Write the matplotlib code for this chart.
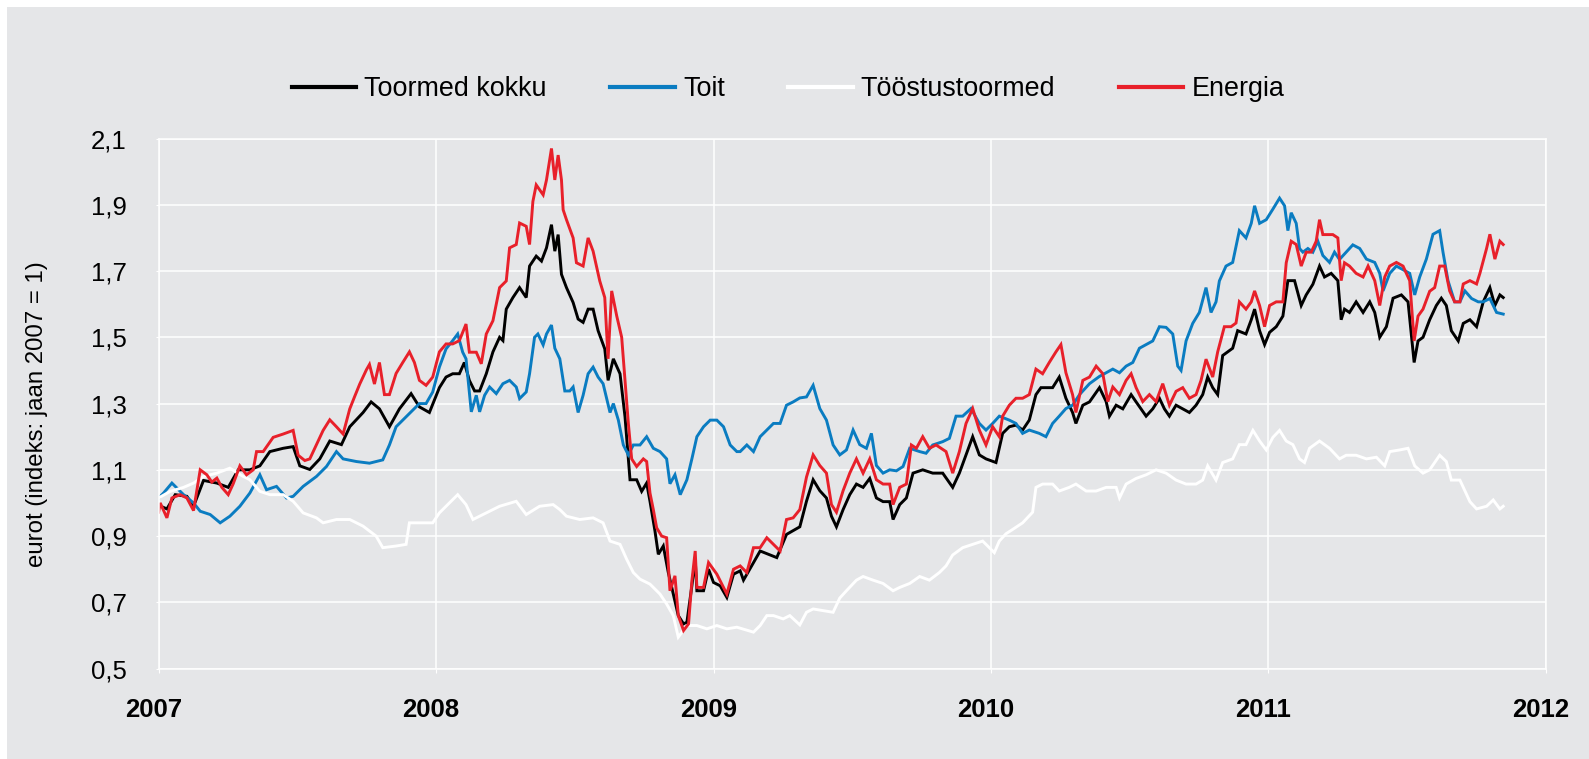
import numpy as np
import matplotlib
matplotlib.use("Agg")
import matplotlib.pyplot as plt
import matplotlib.transforms as mtransforms
from matplotlib.patches import Rectangle

plt.rcParams['font.family'] = ['Liberation Sans', 'DejaVu Sans']

# --- data (decimal year, index: Jan 2007 = 1) ---
t_kokku = [2007.000, 2007.030, 2007.060, 2007.102, 2007.126, 2007.162, 2007.210, 2007.251, 2007.287, 2007.329,
           2007.365, 2007.401, 2007.449, 2007.485, 2007.509, 2007.545, 2007.581, 2007.617, 2007.659, 2007.689,
           2007.737, 2007.766, 2007.796, 2007.832, 2007.868, 2007.910, 2007.940, 2007.976, 2008.012, 2008.036,
           2008.060, 2008.084, 2008.102, 2008.120, 2008.139, 2008.157, 2008.181, 2008.205, 2008.229, 2008.241,
           2008.253, 2008.277, 2008.301, 2008.325, 2008.337, 2008.361, 2008.380, 2008.398, 2008.416, 2008.428,
           2008.440, 2008.452, 2008.470, 2008.494, 2008.512, 2008.530, 2008.548, 2008.566, 2008.584, 2008.608,
           2008.620, 2008.639, 2008.663, 2008.681, 2008.699, 2008.723, 2008.741, 2008.759, 2008.771, 2008.789,
           2008.801, 2008.819, 2008.837, 2008.855, 2008.873, 2008.892, 2008.904, 2008.922, 2008.934, 2008.940,
           2008.964, 2008.982, 2009.000, 2009.024, 2009.048, 2009.072, 2009.096, 2009.108, 2009.168, 2009.228,
           2009.263, 2009.311, 2009.335, 2009.359, 2009.383, 2009.407, 2009.425, 2009.443, 2009.467, 2009.491,
           2009.515, 2009.539, 2009.563, 2009.587, 2009.611, 2009.635, 2009.647, 2009.671, 2009.695, 2009.719,
           2009.754, 2009.790, 2009.826, 2009.862, 2009.886, 2009.910, 2009.934, 2009.958, 2009.982, 2010.018,
           2010.042, 2010.066, 2010.090, 2010.114, 2010.138, 2010.162, 2010.180, 2010.222, 2010.246, 2010.270,
           2010.294, 2010.306, 2010.331, 2010.355, 2010.391, 2010.415, 2010.427, 2010.451, 2010.475, 2010.505,
           2010.523, 2010.559, 2010.583, 2010.607, 2010.625, 2010.643, 2010.667, 2010.691, 2010.715, 2010.739,
           2010.763, 2010.781, 2010.799, 2010.817, 2010.835, 2010.871, 2010.889, 2010.919, 2010.938, 2010.950,
           2010.968, 2010.986, 2011.004, 2011.028, 2011.052, 2011.070, 2011.094, 2011.118, 2011.136, 2011.160,
           2011.184, 2011.202, 2011.226, 2011.250, 2011.262, 2011.274, 2011.292, 2011.316, 2011.341, 2011.365,
           2011.383, 2011.401, 2011.425, 2011.449, 2011.479, 2011.503, 2011.525, 2011.539, 2011.557, 2011.581,
           2011.605, 2011.623, 2011.641, 2011.659, 2011.684, 2011.702, 2011.726, 2011.750, 2011.774, 2011.798,
           2011.816, 2011.834, 2011.846]
v_kokku = [0.993, 0.982, 1.025, 1.020, 0.990, 1.068, 1.060, 1.047, 1.100, 1.100,
           1.112, 1.155, 1.165, 1.170, 1.112, 1.101, 1.133, 1.187, 1.176, 1.230,
           1.273, 1.305, 1.284, 1.230, 1.284, 1.330, 1.290, 1.273, 1.348, 1.380,
           1.390, 1.390, 1.424, 1.370, 1.338, 1.338, 1.390, 1.456, 1.500, 1.490,
           1.585, 1.620, 1.650, 1.620, 1.715, 1.745, 1.730, 1.770, 1.840, 1.760,
           1.810, 1.690, 1.650, 1.605, 1.555, 1.545, 1.585, 1.585, 1.520, 1.465,
           1.370, 1.435, 1.390, 1.260, 1.070, 1.070, 1.035, 1.060, 1.005, 0.915,
           0.845, 0.870, 0.790, 0.725, 0.660, 0.635, 0.640, 0.750, 0.830, 0.735,
           0.735, 0.800, 0.760, 0.750, 0.715, 0.785, 0.795, 0.767, 0.855, 0.835,
           0.905, 0.928, 1.005, 1.070, 1.037, 1.015, 0.960, 0.928, 0.980, 1.025,
           1.057, 1.047, 1.074, 1.015, 1.004, 1.004, 0.950, 0.995, 1.015, 1.090,
           1.100, 1.090, 1.090, 1.047, 1.090, 1.145, 1.200, 1.145, 1.133, 1.122,
           1.210, 1.230, 1.235, 1.220, 1.250, 1.327, 1.348, 1.348, 1.380, 1.316,
           1.273, 1.240, 1.295, 1.305, 1.348, 1.306, 1.262, 1.295, 1.284, 1.327,
           1.305, 1.262, 1.284, 1.316, 1.284, 1.262, 1.295, 1.284, 1.273, 1.295,
           1.327, 1.380, 1.348, 1.327, 1.445, 1.467, 1.520, 1.510, 1.553, 1.585,
           1.520, 1.478, 1.515, 1.532, 1.564, 1.671, 1.671, 1.596, 1.628, 1.660,
           1.715, 1.682, 1.693, 1.671, 1.553, 1.585, 1.575, 1.607, 1.575, 1.607,
           1.575, 1.500, 1.532, 1.618, 1.628, 1.607, 1.424, 1.489, 1.500, 1.553,
           1.596, 1.618, 1.596, 1.520, 1.489, 1.542, 1.553, 1.532, 1.607, 1.650,
           1.596, 1.628, 1.620]

t_toit = [2007.000, 2007.018, 2007.048, 2007.090, 2007.126, 2007.150, 2007.186, 2007.222, 2007.257, 2007.293,
          2007.329, 2007.365, 2007.389, 2007.425, 2007.461, 2007.485, 2007.521, 2007.569, 2007.605, 2007.641,
          2007.665, 2007.713, 2007.760, 2007.808, 2007.832, 2007.856, 2007.904, 2007.940, 2007.964, 2007.988,
          2008.012, 2008.036, 2008.060, 2008.078, 2008.096, 2008.108, 2008.127, 2008.145, 2008.157, 2008.175,
          2008.193, 2008.217, 2008.241, 2008.265, 2008.289, 2008.301, 2008.325, 2008.337, 2008.355, 2008.367,
          2008.386, 2008.398, 2008.416, 2008.428, 2008.446, 2008.464, 2008.482, 2008.494, 2008.512, 2008.530,
          2008.548, 2008.566, 2008.584, 2008.602, 2008.627, 2008.639, 2008.657, 2008.675, 2008.693, 2008.711,
          2008.735, 2008.759, 2008.783, 2008.807, 2008.831, 2008.843, 2008.861, 2008.880, 2008.904, 2008.922,
          2008.940, 2008.964, 2008.988, 2009.012, 2009.036, 2009.060, 2009.084, 2009.096, 2009.120, 2009.144,
          2009.168, 2009.192, 2009.216, 2009.240, 2009.263, 2009.287, 2009.311, 2009.335, 2009.359, 2009.383,
          2009.407, 2009.431, 2009.455, 2009.479, 2009.503, 2009.527, 2009.551, 2009.569, 2009.587, 2009.611,
          2009.635, 2009.659, 2009.683, 2009.707, 2009.743, 2009.766, 2009.790, 2009.826, 2009.850, 2009.874,
          2009.898, 2009.928, 2009.958, 2009.982, 2010.006, 2010.030, 2010.066, 2010.090, 2010.114, 2010.138,
          2010.174, 2010.198, 2010.222, 2010.246, 2010.270, 2010.294, 2010.319, 2010.355, 2010.391, 2010.415,
          2010.439, 2010.463, 2010.487, 2010.511, 2010.535, 2010.559, 2010.583, 2010.607, 2010.631, 2010.655,
          2010.673, 2010.685, 2010.703, 2010.727, 2010.751, 2010.775, 2010.793, 2010.811, 2010.823, 2010.847,
          2010.871, 2010.895, 2010.919, 2010.938, 2010.950, 2010.968, 2010.992, 2011.016, 2011.040, 2011.058,
          2011.070, 2011.082, 2011.100, 2011.112, 2011.124, 2011.142, 2011.160, 2011.178, 2011.196, 2011.220,
          2011.238, 2011.256, 2011.280, 2011.304, 2011.329, 2011.353, 2011.383, 2011.401, 2011.413, 2011.437,
          2011.461, 2011.485, 2011.509, 2011.527, 2011.545, 2011.569, 2011.593, 2011.617, 2011.629, 2011.647,
          2011.671, 2011.690, 2011.708, 2011.732, 2011.756, 2011.774, 2011.798, 2011.822, 2011.846]
v_toit = [1.015, 1.030, 1.060, 1.025, 1.000, 0.975, 0.965, 0.940, 0.960, 0.990,
          1.030, 1.085, 1.040, 1.050, 1.015, 1.020, 1.050, 1.080, 1.110, 1.155,
          1.133, 1.125, 1.120, 1.130, 1.175, 1.230, 1.270, 1.300, 1.300, 1.335,
          1.410, 1.465, 1.490, 1.510, 1.455, 1.435, 1.275, 1.325, 1.275, 1.325,
          1.350, 1.330, 1.360, 1.370, 1.350, 1.315, 1.335, 1.390, 1.500, 1.510,
          1.477, 1.510, 1.537, 1.467, 1.435, 1.338, 1.338, 1.350, 1.273, 1.325,
          1.390, 1.410, 1.380, 1.360, 1.273, 1.300, 1.250, 1.175, 1.145, 1.175,
          1.175, 1.200, 1.165, 1.155, 1.133, 1.058, 1.085, 1.025, 1.070, 1.133,
          1.200, 1.230, 1.250, 1.250, 1.230, 1.175, 1.155, 1.155, 1.175, 1.155,
          1.200, 1.220, 1.240, 1.240, 1.295, 1.305, 1.317, 1.320, 1.355, 1.285,
          1.250, 1.175, 1.145, 1.160, 1.220, 1.176, 1.165, 1.210, 1.113, 1.090,
          1.100, 1.097, 1.110, 1.165, 1.155, 1.150, 1.175, 1.185, 1.195, 1.262,
          1.262, 1.285, 1.240, 1.220, 1.240, 1.262, 1.250, 1.240, 1.210, 1.220,
          1.210, 1.200, 1.240, 1.262, 1.285, 1.295, 1.327, 1.360, 1.382, 1.393,
          1.404, 1.393, 1.413, 1.424, 1.467, 1.478, 1.489, 1.532, 1.530, 1.510,
          1.413, 1.400, 1.489, 1.542, 1.575, 1.650, 1.575, 1.607, 1.670, 1.715,
          1.726, 1.822, 1.800, 1.844, 1.897, 1.844, 1.855, 1.887, 1.920, 1.897,
          1.822, 1.876, 1.844, 1.768, 1.757, 1.768, 1.757, 1.790, 1.747, 1.726,
          1.757, 1.735, 1.757, 1.779, 1.768, 1.736, 1.726, 1.693, 1.640, 1.693,
          1.715, 1.704, 1.693, 1.628, 1.682, 1.736, 1.811, 1.822, 1.757, 1.671,
          1.607, 1.607, 1.640, 1.617, 1.607, 1.607, 1.617, 1.575, 1.570]

t_toostus = [2007.000, 2007.042, 2007.090, 2007.126, 2007.162, 2007.210, 2007.257, 2007.305, 2007.329, 2007.365,
             2007.401, 2007.449, 2007.485, 2007.521, 2007.569, 2007.593, 2007.641, 2007.689, 2007.737, 2007.784,
             2007.808, 2007.856, 2007.892, 2007.904, 2007.952, 2007.988, 2008.012, 2008.048, 2008.078, 2008.108,
             2008.133, 2008.181, 2008.229, 2008.289, 2008.325, 2008.373, 2008.422, 2008.446, 2008.470, 2008.518,
             2008.566, 2008.602, 2008.627, 2008.663, 2008.687, 2008.711, 2008.735, 2008.771, 2008.807, 2008.831,
             2008.855, 2008.873, 2008.904, 2008.940, 2008.976, 2009.012, 2009.048, 2009.084, 2009.144, 2009.168,
             2009.192, 2009.216, 2009.251, 2009.275, 2009.311, 2009.335, 2009.359, 2009.395, 2009.431, 2009.455,
             2009.479, 2009.515, 2009.539, 2009.575, 2009.611, 2009.647, 2009.671, 2009.707, 2009.743, 2009.778,
             2009.814, 2009.838, 2009.862, 2009.898, 2009.934, 2009.970, 2009.994, 2010.012, 2010.030, 2010.054,
             2010.078, 2010.114, 2010.150, 2010.162, 2010.186, 2010.222, 2010.246, 2010.282, 2010.306, 2010.343,
             2010.379, 2010.415, 2010.451, 2010.463, 2010.487, 2010.523, 2010.559, 2010.595, 2010.631, 2010.667,
             2010.703, 2010.739, 2010.763, 2010.781, 2010.811, 2010.835, 2010.871, 2010.895, 2010.919, 2010.944,
             2010.968, 2010.992, 2011.016, 2011.040, 2011.064, 2011.088, 2011.112, 2011.130, 2011.148, 2011.184,
             2011.220, 2011.256, 2011.280, 2011.316, 2011.353, 2011.389, 2011.419, 2011.437, 2011.473, 2011.503,
             2011.527, 2011.557, 2011.581, 2011.617, 2011.641, 2011.659, 2011.690, 2011.726, 2011.750, 2011.786,
             2011.810, 2011.834, 2011.846]
v_toostus = [1.015, 1.035, 1.047, 1.060, 1.080, 1.090, 1.105, 1.080, 1.070, 1.035,
             1.025, 1.025, 1.005, 0.970, 0.955, 0.940, 0.950, 0.950, 0.930, 0.900,
             0.865, 0.870, 0.875, 0.940, 0.940, 0.940, 0.970, 1.000, 1.025, 0.995,
             0.950, 0.970, 0.990, 1.005, 0.965, 0.990, 0.995, 0.980, 0.960, 0.950,
             0.955, 0.940, 0.885, 0.875, 0.830, 0.790, 0.770, 0.755, 0.725, 0.695,
             0.660, 0.595, 0.630, 0.630, 0.620, 0.630, 0.620, 0.625, 0.610, 0.630,
             0.660, 0.660, 0.650, 0.660, 0.632, 0.670, 0.680, 0.675, 0.670, 0.713,
             0.735, 0.767, 0.778, 0.767, 0.757, 0.735, 0.745, 0.757, 0.778, 0.767,
             0.790, 0.810, 0.843, 0.865, 0.875, 0.885, 0.865, 0.850, 0.885, 0.907,
             0.920, 0.940, 0.972, 1.047, 1.057, 1.057, 1.036, 1.047, 1.057, 1.036,
             1.036, 1.047, 1.047, 1.015, 1.057, 1.074, 1.085, 1.100, 1.090, 1.069,
             1.057, 1.057, 1.069, 1.112, 1.069, 1.122, 1.133, 1.176, 1.176, 1.219,
             1.187, 1.160, 1.198, 1.219, 1.187, 1.176, 1.133, 1.122, 1.165, 1.187,
             1.165, 1.133, 1.144, 1.144, 1.133, 1.138, 1.112, 1.155, 1.160, 1.165,
             1.112, 1.090, 1.100, 1.144, 1.125, 1.069, 1.069, 1.004, 0.982, 0.990,
             1.009, 0.982, 0.990]

t_energia = [2007.000, 2007.006, 2007.030, 2007.048, 2007.078, 2007.102, 2007.126, 2007.150, 2007.174, 2007.192,
             2007.210, 2007.228, 2007.251, 2007.269, 2007.293, 2007.317, 2007.341, 2007.353, 2007.377, 2007.413,
             2007.449, 2007.485, 2007.503, 2007.527, 2007.545, 2007.569, 2007.593, 2007.617, 2007.641, 2007.665,
             2007.689, 2007.707, 2007.725, 2007.749, 2007.760, 2007.778, 2007.796, 2007.814, 2007.832, 2007.856,
             2007.880, 2007.904, 2007.922, 2007.940, 2007.964, 2007.988, 2008.012, 2008.036, 2008.060, 2008.084,
             2008.108, 2008.120, 2008.145, 2008.163, 2008.181, 2008.205, 2008.229, 2008.253, 2008.265, 2008.289,
             2008.301, 2008.325, 2008.337, 2008.349, 2008.361, 2008.386, 2008.398, 2008.416, 2008.428, 2008.440,
             2008.452, 2008.458, 2008.470, 2008.494, 2008.506, 2008.530, 2008.548, 2008.566, 2008.590, 2008.608,
             2008.620, 2008.633, 2008.651, 2008.669, 2008.681, 2008.693, 2008.705, 2008.723, 2008.747, 2008.759,
             2008.771, 2008.783, 2008.795, 2008.813, 2008.831, 2008.843, 2008.861, 2008.873, 2008.892, 2008.910,
             2008.922, 2008.934, 2008.940, 2008.964, 2008.982, 2009.012, 2009.048, 2009.072, 2009.096, 2009.120,
             2009.144, 2009.168, 2009.192, 2009.216, 2009.240, 2009.263, 2009.287, 2009.311, 2009.335, 2009.359,
             2009.383, 2009.407, 2009.425, 2009.443, 2009.467, 2009.491, 2009.515, 2009.539, 2009.563, 2009.587,
             2009.611, 2009.635, 2009.647, 2009.671, 2009.695, 2009.713, 2009.731, 2009.754, 2009.778, 2009.802,
             2009.838, 2009.862, 2009.886, 2009.910, 2009.934, 2009.958, 2009.982, 2010.006, 2010.030, 2010.042,
             2010.066, 2010.090, 2010.114, 2010.138, 2010.162, 2010.186, 2010.210, 2010.234, 2010.252, 2010.270,
             2010.294, 2010.306, 2010.331, 2010.355, 2010.379, 2010.403, 2010.421, 2010.439, 2010.463, 2010.487,
             2010.505, 2010.523, 2010.547, 2010.571, 2010.595, 2010.619, 2010.643, 2010.667, 2010.691, 2010.715,
             2010.739, 2010.757, 2010.775, 2010.799, 2010.817, 2010.841, 2010.865, 2010.883, 2010.895, 2010.919,
             2010.938, 2010.950, 2010.968, 2010.986, 2011.004, 2011.028, 2011.052, 2011.064, 2011.082, 2011.100,
             2011.118, 2011.136, 2011.154, 2011.172, 2011.184, 2011.196, 2011.214, 2011.232, 2011.250, 2011.262,
             2011.274, 2011.292, 2011.316, 2011.341, 2011.359, 2011.383, 2011.401, 2011.419, 2011.437, 2011.461,
             2011.485, 2011.509, 2011.525, 2011.539, 2011.557, 2011.581, 2011.599, 2011.617, 2011.635, 2011.653,
             2011.671, 2011.690, 2011.702, 2011.726, 2011.750, 2011.762, 2011.786, 2011.798, 2011.816, 2011.834,
             2011.846]
v_energia = [0.972, 1.000, 0.955, 1.015, 1.025, 1.015, 0.977, 1.100, 1.085, 1.063,
             1.075, 1.047, 1.025, 1.058, 1.112, 1.085, 1.100, 1.155, 1.155, 1.198,
             1.208, 1.219, 1.144, 1.128, 1.133, 1.176, 1.219, 1.251, 1.230, 1.208,
             1.284, 1.322, 1.359, 1.402, 1.418, 1.359, 1.424, 1.327, 1.327, 1.391,
             1.424, 1.456, 1.424, 1.370, 1.355, 1.380, 1.456, 1.480, 1.480, 1.490,
             1.540, 1.455, 1.455, 1.420, 1.510, 1.550, 1.650, 1.670, 1.770, 1.780,
             1.845, 1.835, 1.780, 1.910, 1.960, 1.930, 1.975, 2.070, 1.975, 2.050,
             1.975, 1.885, 1.855, 1.800, 1.725, 1.715, 1.800, 1.760, 1.670, 1.620,
             1.435, 1.640, 1.565, 1.500, 1.370, 1.240, 1.133, 1.110, 1.133, 1.125,
             1.030, 0.980, 0.925, 0.900, 0.895, 0.735, 0.780, 0.660, 0.615, 0.635,
             0.765, 0.855, 0.745, 0.745, 0.820, 0.785, 0.725, 0.800, 0.810, 0.790,
             0.865, 0.865, 0.895, 0.875, 0.855, 0.950, 0.955, 0.980, 1.078, 1.145,
             1.113, 1.090, 0.995, 0.972, 1.037, 1.090, 1.133, 1.090, 1.133, 1.070,
             1.057, 1.057, 0.995, 1.047, 1.057, 1.175, 1.165, 1.200, 1.165, 1.175,
             1.155, 1.090, 1.155, 1.240, 1.285, 1.220, 1.175, 1.230, 1.200, 1.262,
             1.295, 1.316, 1.316, 1.327, 1.404, 1.390, 1.424, 1.456, 1.478, 1.393,
             1.327, 1.273, 1.370, 1.380, 1.413, 1.390, 1.306, 1.350, 1.327, 1.370,
             1.390, 1.348, 1.306, 1.327, 1.306, 1.360, 1.295, 1.337, 1.348, 1.316,
             1.327, 1.370, 1.434, 1.380, 1.456, 1.532, 1.532, 1.543, 1.607, 1.585,
             1.607, 1.640, 1.596, 1.532, 1.596, 1.607, 1.607, 1.725, 1.790, 1.780,
             1.715, 1.757, 1.757, 1.790, 1.855, 1.810, 1.810, 1.810, 1.800, 1.671,
             1.725, 1.715, 1.693, 1.682, 1.715, 1.671, 1.596, 1.682, 1.715, 1.726,
             1.715, 1.671, 1.489, 1.564, 1.585, 1.639, 1.650, 1.715, 1.715, 1.640,
             1.607, 1.607, 1.661, 1.671, 1.661, 1.693, 1.768, 1.811, 1.736, 1.790,
             1.780]

series_names = ['Toormed kokku', 'Toit', 'Tööstustoormed', 'Energia']
series_colors = ['#000000', '#0a7cc1', '#ffffff', '#e8202a']
year_ticks = [2007, 2008, 2009, 2010, 2011, 2012]
value_ticks = [0.5, 0.7, 0.9, 1.1, 1.3, 1.5, 1.7, 1.9, 2.1]

bg = '#e5e6e8'

fig = plt.figure(figsize=(15.89, 7.59), dpi=100)
fig.patch.set_facecolor('white')
fig.patches.append(Rectangle((7 / 1589, 0), 1, 1 - 7 / 759, transform=fig.transFigure,
                             facecolor=bg, edgecolor='none', zorder=-10))

ax = fig.add_axes([0.0998, 0.1191, 0.8731, 0.6984])
ax.set_facecolor(bg)

series = [(t_kokku, v_kokku), (t_toit, v_toit), (t_toostus, v_toostus), (t_energia, v_energia)]
handles = []
for (t, v), name, col in zip(series, series_names, series_colors):
    h, = ax.plot(t, v, color=col, lw=2.1, label=name, solid_joinstyle='miter')
    handles.append(h)

ax.set_xlim(2007, 2012)
ax.set_ylim(0.5, 2.1)
ax.set_xticks(year_ticks)
ax.set_xticklabels([str(y) for y in year_ticks], fontweight='bold', fontsize=18.5)
ax.set_yticks(value_ticks)
ax.set_yticklabels([f'{v:.1f}'.replace('.', ',') for v in value_ticks], fontsize=18.5)
ax.grid(True, color='white', lw=1.1)
ax.set_axisbelow(True)
for s in ax.spines.values():
    s.set_color('white')
    s.set_linewidth(1.1)
ax.tick_params(axis='x', length=3, color='white', pad=18)
ax.tick_params(axis='y', length=2, color='white', pad=21)

# year labels sit slightly left of their gridlines in the original
shift = mtransforms.ScaledTranslation(-5 / 100, 0, fig.dpi_scale_trans)
for lab in ax.get_xticklabels():
    lab.set_transform(lab.get_transform() + shift)

fig.text(37.5 / 1589, 1 - 414.5 / 759, 'eurot (indeks: jaan 2007 = 1)', rotation=90,
         ha='center', va='center', fontsize=17.3)

leg = fig.legend(handles=handles, loc='center', bbox_to_anchor=(788 / 1589, 1 - 89 / 759),
                 ncol=4, frameon=False, fontsize=19.4, handlelength=2.4, handletextpad=0.3,
                 columnspacing=2.35)
for lh in leg.get_lines():
    lh.set_linewidth(3)

fig.savefig('out.png', dpi=100, facecolor=fig.get_facecolor())
